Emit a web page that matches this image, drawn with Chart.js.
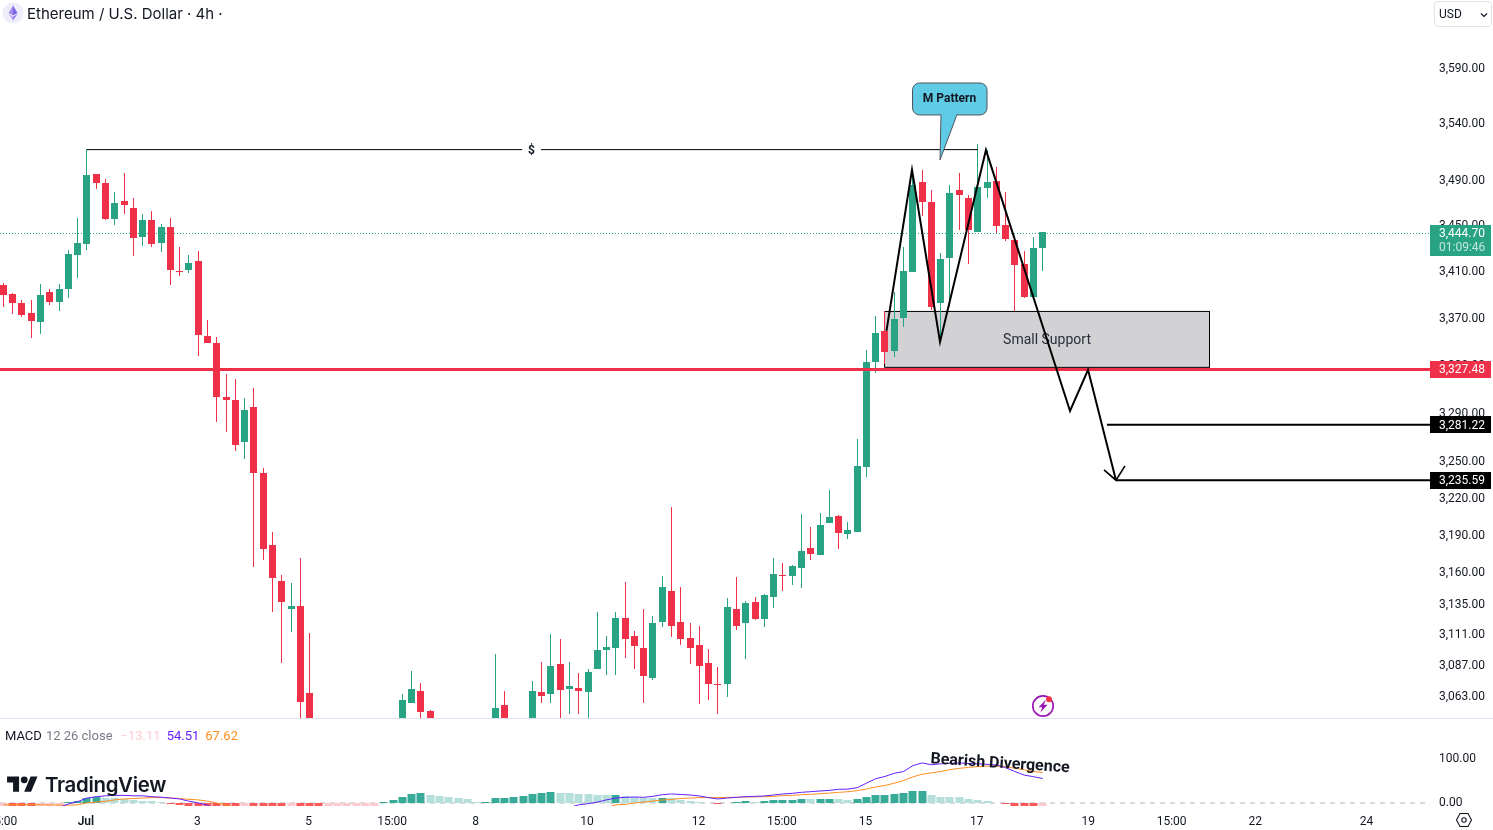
<!DOCTYPE html>
<html lang="en">
<head>
  <meta charset="UTF-8">
  <title>Ethereum / U.S. Dollar · 4h</title>
  <script src="https://cdn.jsdelivr.net/npm/chart.js"></script>
  <style>
    html, body { margin: 0; padding: 0; background: #fff; }
    body { width: 1493px; height: 830px; position: relative; overflow: hidden; font-family: Roboto, sans-serif; color: #131722; }
    canvas { position: absolute; left: 0; }
    #priceChart { top: 0; }
    #macdChart { top: 718px; }
    .abs { position: absolute; white-space: nowrap; }
    #title { left: 27px; top: 4px; font: 400 15px/20px Inter, sans-serif; }
    #usd { left: 1434px; top: 1px; width: 56px; height: 24px; border: 1px solid #e0e3eb; border-radius: 4px; font-size: 12px; line-height: 24px; text-indent: 4px; }
    #macdLegend { left: 5px; top: 728px; font-size: 13px; line-height: 16px; }
    #macdLegend span { margin-right: 4px; }
    #brand { left: 45px; top: 772px; font: 600 20.4px/26px Inter, sans-serif; letter-spacing: -0.3px; }
    #divider { left: 0; top: 718px; width: 1493px; height: 1px; background: #e0e0ee; }
    #cut { left: 1432px; top: 807px; width: 61px; height: 5px; background: #fff; }
  </style>
</head>
<body>
  <canvas id="priceChart" width="1493" height="718"></canvas>
  <canvas id="macdChart" width="1493" height="112"></canvas>
  <div id="divider" class="abs"></div>
  <div id="cut" class="abs"></div>

  <!-- Header -->
  <svg class="abs" style="left:2px;top:2px" width="22" height="22" viewBox="0 0 22 22">
    <circle cx="11" cy="11" r="10.5" fill="#eeeefa"/>
    <path d="M11 3.5 L6.5 11 L11 13.6 Z" fill="#a98cf0"/>
    <path d="M11 3.5 L15.5 11 L11 13.6 Z" fill="#7b63e6"/>
    <path d="M6.5 12 L11 18.5 L11 14.8 Z" fill="#c3a6f7"/>
    <path d="M15.5 12 L11 18.5 L11 14.8 Z" fill="#8f78ec"/>
  </svg>
  <div id="title" class="abs">Ethereum / U.S. Dollar · 4h ·</div>
  <div id="usd" class="abs">USD
    <svg class="abs" style="left:45px;top:10px" width="8" height="6" viewBox="0 0 8 6"><path d="M1 1.5 L4 4.5 L7 1.5" fill="none" stroke="#131722" stroke-width="1.2"/></svg>
  </div>

  <!-- MACD legend -->
  <div id="macdLegend" class="abs"><span>MACD</span><span style="color:#787b86;margin-right:8px">12 26 close</span><span style="color:#ffcdd2;margin-right:6px">−13.11</span><span style="color:#651fff;margin-right:6px">54.51</span><span style="color:#ff8f1f">67.62</span></div>

  <!-- Logo and icons -->
  <svg class="abs" style="left:7px;top:773px" width="31" height="24" viewBox="0 0 36 28">
    <path d="M14 22H7V11H0V4h14v18zM28 22h-8l7.5-18h8L28 22z" fill="#131722"/><circle cx="20" cy="8" r="4" fill="#131722"/>
  </svg>
  <div id="brand" class="abs">TradingView</div>
  <svg class="abs" style="left:1031px;top:694px" width="24" height="24" viewBox="0 0 24 24">
    <circle cx="12" cy="12" r="10.2" fill="#fff" stroke="#9c17b8" stroke-width="1.7"/>
    <path d="M15 5.6 L7.6 13.2 H11.2 L9.4 18.4 L16.6 10.8 H12.8 Z" fill="#9c17b8"/>
    <circle cx="18" cy="5.2" r="3" fill="#f23645"/>
  </svg>
  <svg class="abs" style="left:1455px;top:812px" width="18" height="16" viewBox="0 0 18 16">
    <path d="M5 1.5 H13 L16.5 8 L13 14.5 H5 L1.5 8 Z" fill="none" stroke="#131722" stroke-width="1.1"/>
    <circle cx="9" cy="8" r="2.2" fill="none" stroke="#131722" stroke-width="1.1"/>
  </svg>

  <script>
    const _ = null;

    // 4h candles, index 0 is the first bar on the left, blanks sit below the visible pane
    const opens = [
      3399.3,3391.6,3383.9,3375.4,3367.7,3393.3,3384.7,3395.9,3425.2,3434.7,
      3496.0,3488.1,3456.5,3472.2,3466.1,3440.8,3455.7,3435.6,3449.6,3411.4,
      3412.3,3420.0,3355.8,3349.9,3304.3,3301.8,3267.0,3296.0,3241.5,3183.0,
      3154.2,3131.9,3134.3,3066.1,_,_,_,_,_,_,
      _,_,_,3040.0,3058.3,3067.6,3052.1,_,_,_,
      _,_,_,3035.0,3056.7,_,_,3040.0,3066.8,3065.3,
      3088.7,3069.2,3070.0,3066.8,3084.8,3099.6,3101.2,3124.8,3110.6,3101.2,
      3077.8,3121.7,3146.2,3121.7,3109.1,3103.5,3089.5,3073.1,3073.1,3131.9,
      3120.9,3137.4,3124.0,3141.4,3159.0,3158.2,3164.6,3180.6,3175.0,3200.8,
      3206.5,3191.9,3193.5,3246.5,3333.8,3360.1,3343.1,3371.1,3410.5,3489.0,
      3471.4,3383.9,3422.6,3481.9,3474.9,3445.2,3483.7,3489.9,3451.3,3438.2,
      3417.4,3388.9,3431.2
    ];
    const highs = [
      3401.1,3392.4,3386.4,3386.4,3400.2,3395.9,3400.2,3429.5,3457.4,3518.1,
      3496.0,3491.6,3480.2,3496.9,3474.9,3460.9,3463.5,3452.2,3457.4,3432.1,
      3425.2,3428.6,3369.4,3355.0,3323.7,3319.5,3303.5,3311.9,3245.6,3193.5,
      3159.0,3152.6,3172.6,3113.0,_,_,_,_,_,_,
      _,_,_,3065.3,3083.2,3073.9,3052.9,_,_,_,
      _,_,_,3096.5,3067.6,_,_,3075.4,3090.2,3112.2,
      3108.3,3090.2,3081.7,3084.8,3129.5,3110.6,3129.5,3153.4,3114.6,3131.9,
      3126.4,3158.2,3213.7,3149.4,3120.9,3118.5,3100.4,3086.3,3140.6,3157.4,
      3138.2,3141.4,3143.8,3172.6,3168.6,3167.0,3208.1,3197.6,3208.9,3227.6,
      3207.3,3201.6,3269.5,3343.9,3372.8,3377.1,3393.3,3432.1,3499.6,3499.6,
      3481.9,3426.9,3486.3,3496.9,3477.5,3522.6,3517.2,3502.2,3480.2,3438.2,
      3428.6,3440.8,3445.2
    ];
    const lows = [
      3380.5,3374.5,3372.0,3354.1,3357.5,3382.2,3377.1,3388.1,3405.4,3429.5,
      3482.8,3455.7,3451.3,3460.9,3424.3,3433.0,3432.1,3427.8,3399.3,3407.1,
      3409.7,3338.8,3349.9,3283.6,3275.3,3259.6,3253.0,3165.4,3171.0,3129.5,
      3089.5,3113.8,3030.0,3020.0,_,_,_,_,_,_,
      _,_,_,3035.0,3058.3,3040.0,3035.0,_,_,_,
      _,_,_,3030.0,3030.0,_,_,3035.0,3058.3,3058.3,
      3040.0,3049.8,3049.8,3044.0,3084.8,3080.1,3080.1,3093.4,3084.8,3058.3,
      3076.2,3117.7,3109.8,3103.5,3088.7,3057.5,3060.6,3049.8,3062.9,3115.4,
      3092.6,3123.2,3117.7,3132.7,3146.2,3151.0,3148.6,3171.0,3175.0,3200.8,
      3179.8,3187.9,3193.5,3238.3,3324.5,3332.1,3338.0,3363.5,3410.5,3459.2,
      3377.9,3350.7,3380.5,3447.0,3417.4,3445.2,3474.9,3444.3,3437.3,3377.1,
      3388.1,3388.9,3411.4
    ];
    const closes = [
      3390.7,3383.9,3373.7,3368.6,3390.7,3384.7,3395.9,3426.1,3435.6,3495.2,
      3488.1,3456.5,3470.5,3468.7,3440.0,3455.7,3434.7,3449.6,3412.3,3410.5,
      3418.3,3356.6,3349.9,3304.3,3301.8,3264.5,3293.5,3241.5,3179.8,3156.6,
      3137.4,3134.3,3059.1,3035.0,_,_,_,_,_,_,
      _,_,_,3060.6,3069.2,3051.3,3040.0,_,_,_,
      _,_,_,3054.4,3040.0,_,_,3067.6,3063.7,3087.1,
      3068.4,3071.5,3067.6,3082.4,3099.6,3102.0,3124.8,3108.3,3102.8,3079.3,
      3120.9,3149.4,3118.5,3108.3,3101.2,3087.1,3073.1,3072.3,3133.5,3118.5,
      3136.6,3124.0,3143.0,3159.8,3158.2,3166.2,3178.2,3175.8,3199.2,3205.7,
      3192.7,3195.2,3247.3,3333.8,3358.4,3342.2,3370.3,3411.4,3486.3,3471.4,
      3380.5,3421.7,3479.3,3477.5,3447.0,3484.6,3489.0,3450.4,3439.1,3416.6,
      3388.9,3431.2,3444.7
    ];

    // MACD pane
    const macdHist = [
      -20,-24,-27,-30,-28,-20,-10,3,5.2,11,
      13,11.5,10.4,9,7.4,5.2,3.7,3,-2,-4,
      -6,-9,-12,-15,-18,-21,-19,-22,-25,-28,
      -31,-29,-32,-35,-38,-33,-28,-23,-18,-12,
      -6,1.5,7.4,13.3,19.3,21.5,17.8,15.6,13.3,11.1,
      8.9,3,3.2,11.1,11.9,14,16.3,20.7,23,25.2,
      23,22.9,20.7,20.6,18.5,18,18.7,15.6,12.6,11.9,
      10.4,11.9,10.4,7.4,5.2,3,-1,-3,-1,1.5,
      4.4,3,4.4,6.7,6.8,6.9,8.9,8.8,8.9,9,
      8.1,5.9,8.1,14,18.5,18.6,20.7,23,27.4,27.5,
      18.5,14,13.9,13.8,9.6,7.4,5.2,0.7,-3,-6,
      -12,-15,-13.11
    ];
    const macdLine = [
      _,_,_,_,_,_,-10,-2,3,11,
      14,16,17,17,16,16,14,13,11,9,
      4,0,-5,-15,_,_,_,_,_,_,
      _,_,_,_,_,_,_,_,_,_,
      _,_,_,_,_,_,_,_,_,_,
      _,_,_,_,_,_,_,_,_,_,
      _,-10,-4,-1.5,2,7,11,12.6,13.3,12.6,
      14.8,18.5,20,19,17.8,15.6,11.9,8.9,11,12.6,
      14,14.8,15.6,17.8,20,21.5,23.7,25.2,26.7,28,
      30.4,31,34,44,54,59,66,70,83,89,
      85,87,88,89,88,87,86,84.5,78.5,70,
      62,58.5,54.51
    ];
    const signalLine = [
      -4,-3.7,-3.7,-3.7,-4,-4.4,-4.4,-5,-4,0,
      2,4,7,9,10,11,12,12,11,10,
      8,7,4,0,-4,-10,_,_,_,_,
      _,_,_,_,_,_,_,_,_,_,
      _,_,_,_,_,_,_,_,_,_,
      _,_,_,_,_,_,_,_,_,_,
      _,_,_,_,_,-10,-4,-3,0,2,
      4.4,6.7,8,10,11,12,12,12,12.6,12.6,
      13.3,13.6,14,14.8,16.3,17,18.5,19.3,20.7,22,
      23.7,25,27.4,31,35.6,39,44,50,58,64,
      67,70,74,77,79,81,82,82,81,77,
      74,70,67.62
    ];

    // Axes
    const xTickBars = [0, 9, 21, 33, 42, 51, 63, 75, 84, 93, 105, 117, 126, 135, 147];
    const xTickLabels = ['15:00', 'Jul', '3', '5', '15:00', '8', '10', '12', '15:00', '15', '17', '19', '15:00', '22', '24'];
    const priceTicks = [3590, 3540, 3490, 3450, 3410, 3370, 3330, 3290, 3250, 3220, 3190, 3160, 3135, 3111, 3087, 3063];
    const macdTicks = [100, 0];
    const xMin = -0.366, xMax = 153.73;
    const priceMin = 3046.8, priceMax = 3653.2;
    const macdMin = -6.67, macdMax = 188.9;

    // Drawings on the chart
    const lastPrice = 3444.70, lastPriceLine = 3443.8, lastCountdown = '01:09:46';
    const supportLevel = 3327.48;
    const target1 = 3281.22, target2 = 3235.59;
    const rangeBars = [9.0, 55.9, 57.93, 105.02];
    const rangePrice = 3517.6;
    const mBars = [95.16, 97.91, 100.93, 105.88, 114.94, 116.88, 119.89];
    const mPrices = [3360.1, 3499.6, 3350.7, 3517.2, 3292.7, 3327.1, 3235.59];
    const arrowBars = [118.6, 119.89, 120.86];
    const arrowPrices = [3244.0, 3235.59, 3247.3];
    const boxBars = [94.95, 129.97];
    const boxPrices = [3376.6, 3329.2];
    const calloutBar = 100.93, calloutPrice = 3508.4;

    const GREEN = '#28a484', RED = '#ee3049';
    const fmt2 = v => v.toLocaleString('en-US', { minimumFractionDigits: 2, maximumFractionDigits: 2 });

    Chart.defaults.font.family = 'Roboto';
    Chart.defaults.font.size = 12;
    Chart.defaults.color = '#131722';
    Chart.defaults.animation = false;
    Chart.defaults.plugins.legend.display = false;
    Chart.defaults.plugins.tooltip.enabled = false;

    const bars = [...closes.keys()].filter(i => closes[i] !== null);
    const pts = (xs, ys) => xs.map((x, i) => ({ x, y: ys[i] }));
    const hline = (x0, x1, y) => [{ x: x0, y }, { x: x1, y }];
    const lineStyle = { type: 'line', pointRadius: 0, tension: 0, fill: false };

    // Snap bars to whole pixels so bodies and wicks stay crisp
    const snapBars = {
      id: 'snapBars',
      afterDatasetsUpdate(chart) {
        chart.getSortedVisibleDatasetMetas().forEach(meta => {
          if (meta.type !== 'bar') return;
          meta.data.forEach(el => {
            el.x = Math.floor(el.x) + 0.5;
            el.y = Math.round(el.y);
            el.base = Math.round(el.base);
          });
        });
      }
    };

    function priceTag(ctx, y, h, bg) {
      ctx.fillStyle = bg;
      ctx.fillRect(1430, Math.round(y - h / 2), 61, h);
    }

    const priceNotes = {
      id: 'priceNotes',
      afterDatasetDraw(chart, args) {
        // label sits on the support box, under the candles and lines
        if (chart.data.datasets[args.index].label !== 'box') return;
        const { x, y } = chart.scales;
        const ctx = chart.ctx;
        ctx.save();
        ctx.font = '14px Roboto';
        ctx.fillStyle = '#2a2e39';
        ctx.textAlign = 'center';
        ctx.textBaseline = 'middle';
        ctx.fillText('Small Support', x.getPixelForValue((boxBars[0] + boxBars[1]) / 2), y.getPixelForValue((boxPrices[0] + boxPrices[1]) / 2) + 1);
        ctx.restore();
      },
      afterDraw(chart) {
        const { x, y } = chart.scales;
        const ctx = chart.ctx;
        ctx.save();

        // range label
        ctx.font = 'bold 12px Roboto';
        ctx.fillStyle = '#131722';
        ctx.textAlign = 'center';
        ctx.textBaseline = 'middle';
        ctx.fillText('$', x.getPixelForValue((rangeBars[1] + rangeBars[2]) / 2), y.getPixelForValue(rangePrice) + 1);

        // M Pattern callout, box hangs off the tip of its tail
        const tx = x.getPixelForValue(calloutBar), ty = y.getPixelForValue(calloutPrice);
        ctx.beginPath();
        ctx.roundRect(tx - 27.5, ty - 77, 74.5, 32, 7);
        ctx.fillStyle = '#5fcbe4';
        ctx.strokeStyle = '#50555f';
        ctx.lineWidth = 1;
        ctx.fill();
        ctx.stroke();
        ctx.beginPath();
        ctx.moveTo(tx + 1, ty - 45.5);
        ctx.lineTo(tx, ty);
        ctx.lineTo(tx + 17, ty - 45.5);
        ctx.fill();
        ctx.stroke();
        ctx.fillRect(tx + 1.5, ty - 47, 15, 3);
        ctx.fillStyle = '#131722';
        ctx.font = 'bold 12px Roboto';
        ctx.fillText('M Pattern', tx + 9.5, ty - 61);

        // price tags on the axis
        ctx.textAlign = 'left';
        ctx.font = '12px Roboto';
        const py = y.getPixelForValue(lastPrice);
        ctx.fillStyle = GREEN;
        ctx.fillRect(1430, 225, 61, 31);
        ctx.fillStyle = '#fff';
        ctx.fillText(fmt2(lastPrice), 1439, py + 1.5);
        ctx.fillStyle = 'rgba(255,255,255,0.72)';
        ctx.fillText(lastCountdown, 1439, py + 15.5);
        [[supportLevel, RED], [target1, '#000'], [target2, '#000']].forEach(([v, bg]) => {
          const p = y.getPixelForValue(v);
          priceTag(ctx, p, 17, bg);
          ctx.fillStyle = '#fff';
          ctx.fillText(fmt2(v), 1439, p + 1);
        });
        ctx.restore();
      }
    };

    new Chart(document.getElementById('priceChart'), {
      type: 'bar',
      plugins: [snapBars, priceNotes],
      data: {
        datasets: [
          { ...lineStyle, data: pts(mBars, mPrices), borderColor: '#000', borderWidth: 2, order: 0 },
          { ...lineStyle, data: pts(arrowBars, arrowPrices), borderColor: '#000', borderWidth: 1.6, order: 0 },
          { ...lineStyle, data: hline(mBars[6] - 0.97, xMax, target1), borderColor: '#000', borderWidth: 2, order: 0 },
          { ...lineStyle, data: hline(mBars[6], xMax, target2), borderColor: '#000', borderWidth: 2, order: 0 },
          { ...lineStyle, data: hline(xMin, xMax, supportLevel), borderColor: RED, borderWidth: 3, order: 1 },
          { ...lineStyle, data: hline(rangeBars[0], rangeBars[1], rangePrice), borderColor: '#000', borderWidth: 1, order: 1 },
          { ...lineStyle, data: hline(rangeBars[2], rangeBars[3], rangePrice), borderColor: '#000', borderWidth: 1, order: 1 },
          {
            type: 'bar', label: 'bodies', order: 2, grouped: false, barThickness: 7, inflateAmount: 0, borderWidth: 0,
            data: bars.map(i => ({ x: i, y: [opens[i], closes[i]] })),
            backgroundColor: bars.map(i => closes[i] >= opens[i] ? GREEN : RED)
          },
          {
            type: 'bar', label: 'wicks', order: 3, grouped: false, barThickness: 1, inflateAmount: 0, borderWidth: 0,
            data: bars.map(i => ({ x: i, y: [lows[i], highs[i]] })),
            backgroundColor: bars.map(i => closes[i] >= opens[i] ? GREEN : RED)
          },
          { ...lineStyle, data: hline(xMin, xMax, lastPriceLine), borderColor: GREEN, borderWidth: 1, borderDash: [1, 2], order: 4 },
          {
            ...lineStyle, label: 'box', order: 5, fill: 'shape', backgroundColor: '#d2d2d5', borderColor: '#000', borderWidth: 1,
            data: pts(
              [boxBars[0], boxBars[1], boxBars[1], boxBars[0], boxBars[0]],
              [boxPrices[0], boxPrices[0], boxPrices[1], boxPrices[1], boxPrices[0]]
            )
          }
        ]
      },
      options: {
        responsive: false,
        layout: { padding: 0 },
        scales: {
          x: { type: 'linear', display: false, offset: false, min: xMin, max: xMax },
          y: {
            type: 'logarithmic', position: 'right', min: priceMin, max: priceMax, bounds: 'data', beginAtZero: false,
            grid: { display: false, drawTicks: false },
            border: { display: false },
            ticks: { autoSkip: false, padding: 9, labelOffset: -0.2, callback: v => fmt2(v) },
            afterBuildTicks: s => { s.ticks = priceTicks.map(value => ({ value })); },
            afterFit: s => { s.width = 63; s.paddingTop = 0; s.paddingBottom = 0; }
          }
        }
      }
    });

    const macdNotes = {
      id: 'macdNotes',
      afterDraw(chart) {
        const { x, y } = chart.scales;
        const ctx = chart.ctx;
        ctx.save();
        ctx.translate(x.getPixelForValue(107.4), y.getPixelForValue(87));
        ctx.rotate(3.7 * Math.PI / 180);
        ctx.font = 'bold 16px Roboto';
        ctx.fillStyle = '#131722';
        ctx.textAlign = 'center';
        ctx.textBaseline = 'middle';
        ctx.fillText('Bearish Divergence', 0, 0);
        ctx.restore();
      }
    };

    const histColor = i => {
      const v = macdHist[i], prev = i ? macdHist[i - 1] : v;
      if (v >= 0) return v > prev ? '#38aa98' : '#b4dfdb';
      return v < prev ? '#f95858' : '#fcc9d0';
    };

    new Chart(document.getElementById('macdChart'), {
      type: 'bar',
      plugins: [snapBars, macdNotes],
      data: {
        datasets: [
          { ...lineStyle, data: pts([...macdLine.keys()], macdLine), borderColor: '#651fff', borderWidth: 1, order: 0 },
          { ...lineStyle, data: pts([...signalLine.keys()], signalLine), borderColor: '#ff8f1f', borderWidth: 1, order: 1 },
          {
            type: 'bar', order: 3, grouped: false, barThickness: 8, inflateAmount: 0, borderWidth: 0,
            data: macdHist.map((v, i) => ({ x: i, y: v })),
            backgroundColor: macdHist.map((v, i) => histColor(i))
          },
          { ...lineStyle, data: hline(xMin, xMax, 0), borderColor: '#b2b5be', borderWidth: 1, borderDash: [5, 5], order: 4 }
        ]
      },
      options: {
        responsive: false,
        layout: { padding: 0 },
        scales: {
          x: {
            type: 'linear', offset: false, min: xMin, max: xMax,
            grid: { display: false, drawTicks: false },
            border: { display: false },
            ticks: {
              autoSkip: false, maxRotation: 0, minRotation: 0, padding: 9, labelOffset: -1,
              font: ctx => ctx.index === 1 ? { weight: '600' } : {},
              callback: (v, i) => xTickLabels[i]
            },
            afterBuildTicks: s => { s.ticks = xTickBars.map(value => ({ value })); },
            afterFit: s => { s.height = 24; s.paddingLeft = 0; s.paddingRight = 0; }
          },
          y: {
            type: 'linear', position: 'right', min: macdMin, max: macdMax, beginAtZero: false,
            grid: { display: false, drawTicks: false },
            border: { display: false },
            ticks: { autoSkip: false, padding: 9, labelOffset: 0.5, callback: v => fmt2(v) },
            afterBuildTicks: s => { s.ticks = macdTicks.map(value => ({ value })); },
            afterFit: s => { s.width = 63; s.paddingTop = 0; s.paddingBottom = 0; }
          }
        }
      }
    });
  </script>
</body>
</html>
